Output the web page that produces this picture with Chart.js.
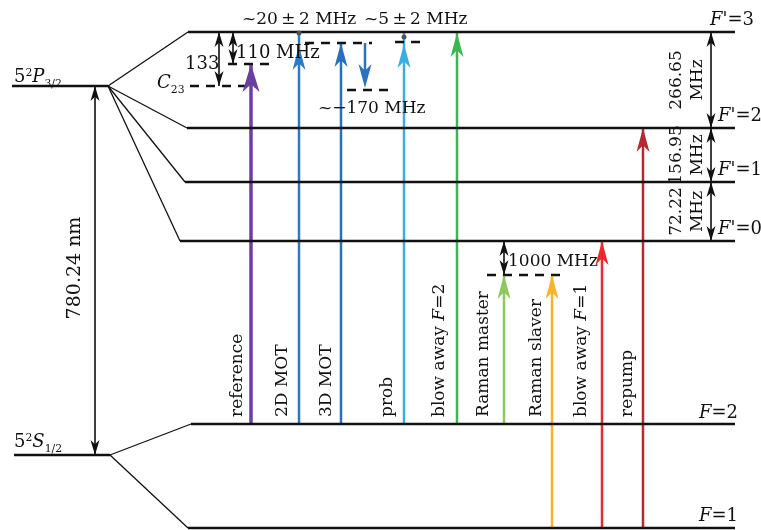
<!DOCTYPE html>
<html>
<head>
<meta charset="utf-8">
<script src="https://cdn.jsdelivr.net/npm/chart.js@4/dist/chart.umd.min.js"></script>
<style>
  body { margin: 0; background: #fff; }
  #wrap { width: 761px; height: 530px; }
</style>
</head>
<body>
<div id="wrap"><canvas id="levels"></canvas></div>
<script>
// Energy levels (schematic diagram units, y grows downward)
const levelNames = ["5²P3/2", "F'=3", "F'=2", "F'=1", "F'=0", "5²S1/2", "F=2", "F=1"];
const levelY  = [86, 32, 128, 182, 241, 455, 424, 528];
const levelX0 = [12, 188, 187, 185, 180, 14, 191, 188];
const levelX1 = [108, 735, 735, 735, 735, 110, 735, 735];
// fan lines: parent level index -> sublevel index
const fanFrom = [0, 0, 0, 0, 5, 5];
const fanTo   = [1, 2, 3, 4, 6, 7];

// Lasers
const laserNames = ['reference', '2D MOT', '3D MOT', 'prob', 'blow away F=2', 'Raman master', 'Raman slaver', 'blow away F=1', 'repump'];
const laserX     = [251, 299, 341, 404, 457, 504, 552, 602, 643];
const laserFrom  = [424, 424, 424, 424, 424, 424, 528, 528, 528];
const laserTip   = [64, 46, 43, 44, 33, 275, 275, 241, 128];
const laserTop   = [64, 32, 43, 32, 32, 275, 275, 241, 128];
const laserColor = ['#6b3fa0', '#2b7bc4', '#2770be', '#3aaee3', '#3db553', '#8cc75f', '#f7b32b', '#e92b2b', '#b52a30'];

// Detuned virtual levels (dashed)
const dashY  = [86, 64, 43, 90, 42, 275];
const dashX0 = [190, 228, 305, 347, 395, 487];
const dashX1 = [255, 272, 372, 392, 425, 566];

// Splitting / detuning markers (double arrows)
const spanX  = [95, 219, 233, 504, 711, 711, 711];
const spanY0 = [86, 32, 32, 241, 32, 128, 182];
const spanY1 = [455, 86, 64, 275, 128, 182, 241];
const spanMHz = [null, 133, 110, 1000, 266.65, 156.95, 72.22];

const FONT = '"DejaVu Serif", "Liberation Serif", serif';
const SZ = 17;

function seg(x0, y0, x1, y1, extra) {
  return Object.assign({
    data: [{ x: x0, y: y0 }, { x: x1, y: y1 }],
    showLine: true, pointRadius: 0, borderColor: '#111', borderWidth: 2.5
  }, extra || {});
}

const datasets = [];
levelY.forEach((y, i) => datasets.push(seg(levelX0[i], y, levelX1[i], y)));
fanFrom.forEach((p, i) => {
  const c = fanTo[i];
  datasets.push(seg(levelX1[p], levelY[p], levelX0[c], levelY[c], { borderWidth: 1.3 }));
});
dashY.forEach((y, i) => datasets.push(seg(dashX0[i], y, dashX1[i], y, { borderDash: [9, 7], borderWidth: 2.5 })));
laserX.forEach((x, i) => {
  datasets.push(seg(x, laserFrom[i], x, laserTop[i], { borderColor: laserColor[i], borderWidth: i === 0 ? 3.5 : 2.5 }));
});
// detuning down arrow of the 3D MOT
datasets.push(seg(365, 43, 365, 78, { borderColor: '#2a72bd', borderWidth: 2.5 }));
spanX.forEach((x, i) => datasets.push(seg(x, spanY0[i], x, spanY1[i], { borderWidth: 1.6 })));

// draws text made of parts: [text, style] style n / i / sup / sub
function rich(ctx, x, y, parts, size) {
  size = size || SZ;
  let cx = x;
  parts.forEach(([t, s]) => {
    let f = size, dy = 0, it = '';
    if (s === 'i') it = 'italic ';
    if (s === 'sup') { f = size * 0.6; dy = -size * 0.35; }
    if (s === 'sub') { f = size * 0.6; dy = size * 0.3; }
    ctx.font = it + f + 'px ' + FONT;
    ctx.fillText(t, cx, y + dy);
    cx += ctx.measureText(t).width;
  });
}

function head(ctx, x, y, dir, len, wid, color) {
  ctx.beginPath();
  ctx.moveTo(x, y);
  ctx.lineTo(x - wid / 2, y - dir * len);
  ctx.lineTo(x, y - dir * len * 0.72);
  ctx.lineTo(x + wid / 2, y - dir * len);
  ctx.closePath();
  ctx.fillStyle = color;
  ctx.fill();
}

const diagramPlugin = {
  id: 'diagram',
  afterDatasetsDraw(chart) {
    const ctx = chart.ctx, sx = chart.scales.x, sy = chart.scales.y;
    const X = v => sx.getPixelForValue(v), Y = v => sy.getPixelForValue(v);
    ctx.save();
    // laser heads
    laserX.forEach((x, i) => {
      const dir = laserTip[i] < laserFrom[i] ? -1 : 1;
      if (i === 0) head(ctx, X(x), Y(laserTip[i]), dir, 28, 17, laserColor[i]);
      else head(ctx, X(x), Y(laserTip[i]), dir, 24, 13, laserColor[i]);
    });
    head(ctx, X(365), Y(88), 1, 24, 13, '#2a72bd');
    // double arrows
    spanX.forEach((x, i) => {
      head(ctx, X(x), Y(spanY0[i]), -1, 15, 9, '#111');
      head(ctx, X(x), Y(spanY1[i]), 1, 15, 9, '#111');
    });
    // small markers on F'=3
    [[299, 33], [404, 37]].forEach(([x, y]) => {
      ctx.beginPath();
      ctx.arc(X(x), Y(y), 2.5, 0, Math.PI * 2);
      ctx.fillStyle = '#555';
      ctx.fill();
    });

    ctx.fillStyle = '#111';
    ctx.textBaseline = 'alphabetic';
    ctx.textAlign = 'left';
    rich(ctx, X(14), Y(82), [['5', 'n'], ['2', 'sup'], ['P', 'i'], ['3/2', 'sub']], 18);
    rich(ctx, X(14), Y(447), [['5', 'n'], ['2', 'sup'], ['S', 'i'], ['1/2', 'sub']], 18);
    rich(ctx, X(157), Y(88), [['C', 'i'], ['23', 'sub']], 18);
    rich(ctx, X(185), Y(69), [['133', 'n']], 18);
    rich(ctx, X(236), Y(58), [['110 MHz', 'n']], 18);
    rich(ctx, X(242), Y(24), [['~20\u2009±\u20092 MHz', 'n']], 17);
    rich(ctx, X(364), Y(24), [['~5\u2009±\u20092 MHz', 'n']], 17);
    rich(ctx, X(318), Y(113), [['~−170 MHz', 'n']], 17);
    rich(ctx, X(508), Y(266), [['1000 MHz', 'n']], 17);
    // level names on the right
    const right = [[1, 710, 25], [2, 718, 121], [3, 718, 175], [4, 718, 234], [6, 699, 418], [7, 699, 521]];
    right.forEach(([li, x, y]) => {
      const n = levelNames[li];
      rich(ctx, X(x), Y(y), [['F', 'i'], [n.slice(1), 'n']], 18);
    });

    // rotated labels
    function vtext(x, y, parts, align, size) {
      size = size || SZ;
      ctx.save();
      ctx.translate(X(x), Y(y));
      ctx.rotate(-Math.PI / 2);
      ctx.textBaseline = 'middle';
      let w = 0;
      parts.forEach(([t, s]) => { ctx.font = (s === 'i' ? 'italic ' : '') + size + 'px ' + FONT; w += ctx.measureText(t).width; });
      const start = align === 'center' ? -w / 2 : 0;
      rich(ctx, start, 0, parts, size);
      ctx.restore();
    }
    const labelX = [238, 283, 327, 388, 440, 484, 537, 582, 628];
    laserNames.forEach((n, i) => {
      const m = n.match(/^(.*)F(=\d)$/);
      const parts = m ? [[m[1], 'n'], ['F', 'i'], [m[2], 'n']] : [[n, 'n']];
      vtext(labelX[i], 417, parts, 'left');
    });
    vtext(75, 268, [['780.24 nm', 'n']], 'center', 19);
    [[4, 5], [5, 6], [6, 7]].forEach(([a]) => {
      const mid = (spanY0[a] + spanY1[a]) / 2;
      vtext(677, mid, [[String(spanMHz[a]), 'n']], 'center');
      vtext(698, mid, [['MHz', 'n']], 'center');
    });
    ctx.restore();
  }
};

new Chart(document.getElementById('levels'), {
  type: 'scatter',
  data: { datasets: datasets },
  options: {
    responsive: true,
    maintainAspectRatio: false,
    animation: false,
    layout: { padding: 0 },
    plugins: { legend: { display: false }, tooltip: { enabled: false } },
    elements: { line: { tension: 0, borderCapStyle: 'butt' } },
    scales: {
      x: { type: 'linear', min: 0, max: 761, display: false },
      y: { type: 'linear', min: 0, max: 530, reverse: true, display: false }
    }
  },
  plugins: [diagramPlugin]
});
</script>
</body>
</html>
